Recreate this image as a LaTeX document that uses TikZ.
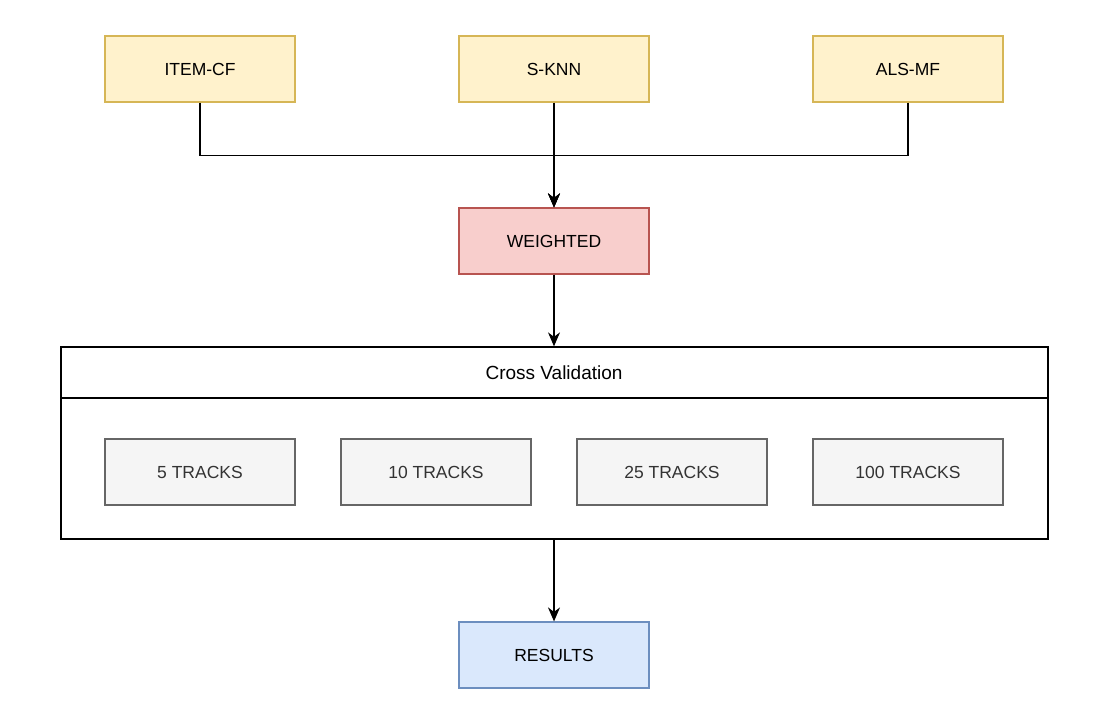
\documentclass[tikz,border=0pt]{standalone}
\usepackage{fontspec}
\setmainfont{Liberation Sans}
\usetikzlibrary{arrows.meta}
\definecolor{yfill}{HTML}{FFF2CC}\definecolor{ydraw}{HTML}{D6B656}
\definecolor{rfill}{HTML}{F8CECC}\definecolor{rdraw}{HTML}{B85450}
\definecolor{bfill}{HTML}{DAE8FC}\definecolor{bdraw}{HTML}{6C8EBF}
\definecolor{gfill}{HTML}{F5F5F5}\definecolor{gdraw}{HTML}{666666}\definecolor{gtext}{HTML}{333333}
\begin{document}
\begin{tikzpicture}[x=1pt,y=-1pt,
  every node/.style={font=\fontsize{17.5}{21}\selectfont},
  box/.style={draw,line width=1.2pt,minimum width=190pt,minimum height=66pt,inner sep=0pt},
  ybox/.style={box,fill=yfill,draw=ydraw},
  rbox/.style={box,fill=rfill,draw=rdraw},
  bbox/.style={box,fill=bfill,draw=bdraw},
  gbox/.style={box,fill=gfill,draw=gdraw,text=gtext},
  conn/.style={line width=1.3pt,draw=black},
  arr/.style={conn,-{Stealth[length=14pt,width=12pt,inset=4.5pt]}}]
\useasboundingbox (0,0) rectangle (1104,710);
\node[ybox] (item) at (200,69) {ITEM-CF};
\node[ybox] (sknn) at (554,69) {S-KNN};
\node[ybox] (als) at (908,69) {ALS-MF};
\node[rbox] (w) at (554,241) {WEIGHTED};
\node[draw,line width=1.3pt,minimum width=987pt,minimum height=192pt,inner sep=0pt] (cv) at (554.5,443) {};
\draw[conn] (cv.west |- 0,398) -- (cv.east |- 0,398);
\node[font=\fontsize{19}{23}\selectfont] (cvt) at (554,373) {Cross Validation};
\node[gbox] (t5) at (200,472) {5 TRACKS};
\node[gbox] (t10) at (436,472) {10 TRACKS};
\node[gbox] (t25) at (672,472) {25 TRACKS};
\node[gbox] (t100) at (908,472) {100 TRACKS};
\node[bbox] (res) at (554,655) {RESULTS};
\draw[arr] (item.south) -- ++(0,53) -| (w.north);
\draw[arr] (als.south) -- ++(0,53) -| (w.north);
\draw[arr] (sknn.south) -- (w.north);
\draw[arr] (w.south) -- (w.south |- cv.north);
\draw[arr] (res.north |- cv.south) -- (res.north);
\end{tikzpicture}
\end{document}
